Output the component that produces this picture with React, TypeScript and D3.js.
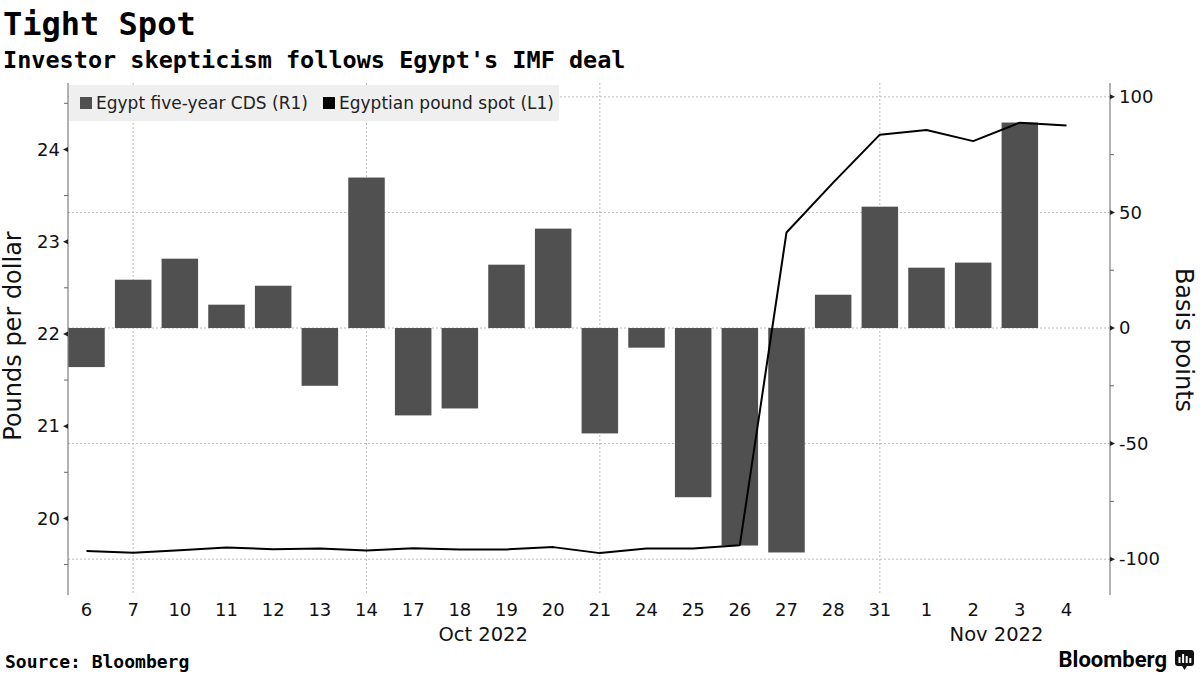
import React from 'react';
import * as d3 from 'd3';

const days = ['6', '7', '10', '11', '12', '13', '14', '17', '18', '19', '20', '21', '24', '25', '26', '27', '28', '31', '1', '2', '3', '4'];
// Egypt five-year CDS, daily change in bp (right axis); no bar on the last day
const cdsChange = [-16.9, 20.9, 30.0, 10.1, 18.3, -25.0, 65.1, -37.8, -34.8, 27.4, 43.0, -45.6, -8.5, -73.2, -94.1, -97.1, 14.4, 52.5, 26.1, 28.3, 88.9, null];
// Egyptian pound per dollar (left axis)
const poundSpot = [19.648, 19.627, 19.656, 19.685, 19.667, 19.675, 19.653, 19.678, 19.664, 19.664, 19.689, 19.624, 19.675, 19.675, 19.71, 23.1, 23.64, 24.16, 24.21, 24.09, 24.29, 24.26];
const leftTicks = [20, 21, 22, 23, 24];
const leftMinor = [19.5, 20.5, 21.5, 22.5, 23.5, 24.5];
const rightTicks = [100, 50, 0, -50, -100];
const rightMinor = [75, 25, -25, -75];
const gridDays = ['7', '14', '21', '31'];
const monthLabels = [
  { text: 'Oct 2022', from: '18', to: '19' },
  { text: 'Nov 2022', from: '2', to: '3' },
];

const W = 1200;
const H = 675;
const top = 83;
const bottom = 595;
const left = 68;
const right = 1110;
const font = 'DejaVu Sans, sans-serif';
const mono = 'DejaVu Sans Mono, monospace';

export default function App() {
  const x = d3.scalePoint<string>().domain(days).range([86.5, 1066.5]);
  const yL = d3.scaleLinear().domain([19.17, 24.72]).range([bottom, top]);
  const yR = d3.scaleLinear().domain([-115.5, 106]).range([bottom, top]);
  const barW = 36.5;

  const line = d3.line<number>()
    .x((_, i) => x(days[i]) as number)
    .y(d => yL(d));

  return (
    <svg width={W} height={H} style={{ position: 'absolute', left: 0, top: 0, background: '#fff' }}>
      <text x={3} y={35} fontFamily={mono} fontWeight="bold" fontSize={32} fill="#000">Tight Spot</text>
      <text x={3} y={68} fontFamily={mono} fontWeight="bold" fontSize={23.5} fill="#000">Investor skepticism follows Egypt's IMF deal</text>

      {/* grid */}
      {rightTicks.map(t => (
        <line key={'h' + t} x1={left} x2={right} y1={yR(t)} y2={yR(t)} stroke="#bbb" strokeDasharray="2,2" />
      ))}
      {gridDays.map(d => (
        <line key={'v' + d} x1={x(d)} x2={x(d)} y1={top} y2={bottom} stroke="#bbb" strokeDasharray="2,2" />
      ))}

      {/* legend */}
      <rect x={left + 1} y={top + 2} width={490} height={36} fill="#efefef" />
      <rect x={80} y={97} width={12} height={12} fill="#505050" />
      <text x={96} y={109} fontFamily={font} fontSize={17} fill="#222">Egypt five-year CDS (R1)</text>
      <rect x={323} y={97} width={12} height={12} fill="#000" />
      <text x={339} y={109} fontFamily={font} fontSize={17} fill="#222">Egyptian pound spot (L1)</text>

      {/* bars */}
      {cdsChange.map((v, i) => v == null ? null : (
        <rect key={'b' + i}
          x={(x(days[i]) as number) - barW / 2}
          width={barW}
          y={Math.min(yR(v), yR(0))}
          height={Math.abs(yR(v) - yR(0))}
          fill="#505050" />
      ))}

      <path d={line(poundSpot) || ''} fill="none" stroke="#000" strokeWidth={2} strokeLinejoin="round" />

      {/* left axis */}
      <line x1={left} x2={left} y1={top} y2={bottom} stroke="#666" />
      {leftMinor.map(t => (
        <line key={'lm' + t} x1={left - 4} x2={left} y1={yL(t)} y2={yL(t)} stroke="#666" />
      ))}
      {leftTicks.map(t => (
        <g key={'l' + t}>
          <path d={`M${left},${yL(t) - 2.5}L${left - 5},${yL(t)}L${left},${yL(t) + 2.5}Z`} fill="#222" />
          <text x={left - 8} y={yL(t)} dy="0.35em" textAnchor="end" fontFamily={font} fontSize={18} fill="#111">{t}</text>
        </g>
      ))}
      <text transform={`translate(21,336) rotate(-90)`} textAnchor="middle" fontFamily={font} fontSize={24} fill="#111">Pounds per dollar</text>

      {/* right axis */}
      <line x1={right} x2={right} y1={top} y2={bottom} stroke="#666" />
      {rightMinor.map(t => (
        <line key={'rm' + t} x1={right} x2={right + 4} y1={yR(t)} y2={yR(t)} stroke="#666" />
      ))}
      {rightTicks.map(t => (
        <g key={'r' + t}>
          <path d={`M${right},${yR(t) - 2.5}L${right + 5},${yR(t)}L${right},${yR(t) + 2.5}Z`} fill="#222" />
          <text x={right + 9} y={yR(t)} dy="0.35em" fontFamily={font} fontSize={18} fill="#111">{t}</text>
        </g>
      ))}
      <text transform={`translate(1176,340) rotate(90)`} textAnchor="middle" fontFamily={font} fontSize={24} fill="#111">Basis points</text>

      {/* x axis labels */}
      {days.map(d => (
        <text key={'x' + d} x={x(d)} y={616} textAnchor="middle" fontFamily={font} fontSize={18} fill="#111">{d}</text>
      ))}
      {monthLabels.map(m => (
        <text key={m.text} x={((x(m.from) as number) + (x(m.to) as number)) / 2} y={641} textAnchor="middle" fontFamily={font} fontSize={19.5} fill="#111">{m.text}</text>
      ))}

      {/* footer */}
      <text x={5} y={668} fontFamily={mono} fontWeight="bold" fontSize={18} fill="#000">Source: Bloomberg</text>
      <text x={1167} y={667} textAnchor="end" fontFamily="Roboto, sans-serif" fontWeight="bold" fontSize={22} fill="#000">Bloomberg</text>
      <rect x={1175} y={650} width={19} height={16} rx={3} fill="#111" />
      <path d="M1182,666L1184.5,670L1187,666Z" fill="#111" />
      {[0, 1, 2, 3].map(i => (
        <rect key={'ic' + i} x={1178.5 + i * 3.6} y={660 - [3, 6, 4, 2][i]} width={2} height={[3, 6, 4, 2][i] + 3} fill="#fff" />
      ))}
    </svg>
  );
}
